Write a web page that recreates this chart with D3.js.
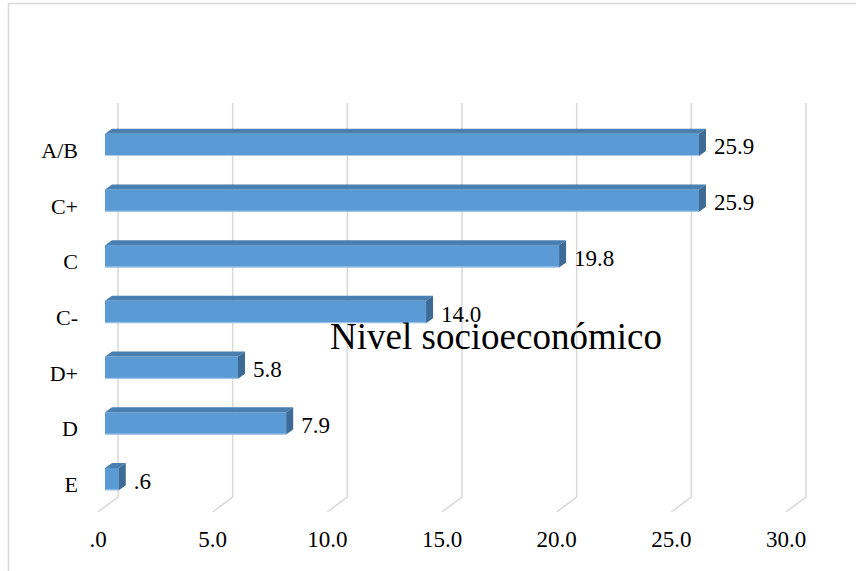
<!DOCTYPE html>
<html>
<head>
<meta charset="utf-8">
<script src="https://cdn.jsdelivr.net/npm/d3@7"></script>
<style>
    html, body { margin: 0; padding: 0; background: #fff; overflow: hidden; }
</style>
</head>
<body>
<div id="draw"></div>
<script>
var categories = ['A/B', 'C+', 'C', 'C-', 'D+', 'D', 'E'];
var values = [25.9, 25.9, 19.8, 14.0, 5.8, 7.9, 0.6];
var valueLabels = ['25.9', '25.9', '19.8', '14.0', '5.8', '7.9', '.6'];
var ticks = [0, 5, 10, 15, 20, 25, 30];
var tickLabels = ['.0', '5.0', '10.0', '15.0', '20.0', '25.0', '30.0'];
var title = 'Nivel socioeconómico';

(function () {
    "use strict";

    var width = 856,
        height = 571,
        serif = "'Times New Roman', 'Liberation Serif', Tinos, 'DejaVu Serif', serif",
        wallTop = 103,     // top of the back wall gridlines
        wallBottom = 497,  // where back wall meets the floor
        floorDx = -20,     // floor projection toward the viewer
        floorDy = 15,
        barShift = -13,    // bar front face offset from back wall
        depthX = 7,        // bar depth in 3d
        depthY = -5;

    var svg = d3.select('#draw').append('svg')
        .attr('width', width)
        .attr('height', height)
        .attr('font-family', serif)
        .style('font-family', serif);

    // chart frame
    svg.append('rect')
        .attr('x', 8.5)
        .attr('y', 3.5)
        .attr('width', width)
        .attr('height', height)
        .attr('fill', 'none')
        .attr('stroke', '#d9d9d9')
        .attr('stroke-width', 1.5);

    var x = d3.scaleLinear().domain([0, 30]).range([118, 806]);
    var y = d3.scaleBand().domain(categories).range([117, 507])
        .paddingInner(0.6).paddingOuter(0.3);

    // back wall gridlines + floor lines
    var grid = svg.append('g');
    grid.selectAll('path').data(ticks).enter().append('path')
        .attr('d', function (t) {
            var bx = x(t);
            return 'M' + bx + ',' + wallTop + 'V' + wallBottom +
                'L' + (bx + floorDx) + ',' + (wallBottom + floorDy);
        })
        .attr('fill', 'none')
        .attr('stroke', '#d9d9d9')
        .attr('stroke-width', 1.5);

    // tick labels sit under the front end of the floor lines
    svg.append('g').selectAll('text').data(ticks).enter().append('text')
        .attr('x', function (t) { return x(t) + floorDx; })
        .attr('y', 547)
        .attr('text-anchor', 'middle')
        .attr('font-size', 23)
        .text(function (t, i) { return tickLabels[i]; });

    // category labels
    svg.append('g').selectAll('text').data(categories).enter().append('text')
        .attr('x', 78)
        .attr('y', function (c) { return y(c) + y.bandwidth() / 2 + 13; })
        .attr('text-anchor', 'end')
        .attr('font-size', 22)
        .text(function (c) { return c; });

    // 3d bars: front, top, side
    var bars = svg.append('g').selectAll('g').data(values).enter().append('g');

    function x0() { return x(0) + barShift; }
    function x1(v) { return x(v) + barShift; }
    function yTop(v, i) { return y(categories[i]); }

    bars.append('rect')
        .attr('x', x0)
        .attr('y', yTop)
        .attr('width', function (v) { return x1(v) - x0(); })
        .attr('height', y.bandwidth())
        .attr('fill', '#5b9bd5');

    bars.append('path')
        .attr('d', function (v, i) {
            var a = x0(), b = x1(v), t = yTop(v, i);
            return 'M' + a + ',' + t + 'L' + (a + depthX) + ',' + (t + depthY) +
                'L' + (b + depthX) + ',' + (t + depthY) + 'L' + b + ',' + t + 'Z';
        })
        .attr('fill', '#4a7fb1');

    bars.append('path')
        .attr('d', function (v, i) {
            var b = x1(v), t = yTop(v, i), bot = t + y.bandwidth();
            return 'M' + b + ',' + t + 'L' + (b + depthX) + ',' + (t + depthY) +
                'L' + (b + depthX) + ',' + (bot + depthY) + 'L' + b + ',' + bot + 'Z';
        })
        .attr('fill', '#3e6b96');

    // light edge on the bottom of the front face
    bars.append('line')
        .attr('x1', x0)
        .attr('x2', function (v) { return x1(v); })
        .attr('y1', function (v, i) { return yTop(v, i) + y.bandwidth() - 0.5; })
        .attr('y2', function (v, i) { return yTop(v, i) + y.bandwidth() - 0.5; })
        .attr('stroke', '#a9c9ea')
        .attr('stroke-width', 1);

    // value labels
    bars.append('text')
        .attr('x', function (v) { return x1(v) + 15; })
        .attr('y', function (v, i) { return yTop(v, i) + y.bandwidth() / 2 + 9.5; })
        .attr('font-size', 23)
        .text(function (v, i) { return valueLabels[i]; });

    // title sits in the middle of the plot
    svg.append('text')
        .attr('x', 496)
        .attr('y', 349)
        .attr('text-anchor', 'middle')
        .attr('font-size', 37)
        .text(title);
}());
</script>
</body>
</html>
